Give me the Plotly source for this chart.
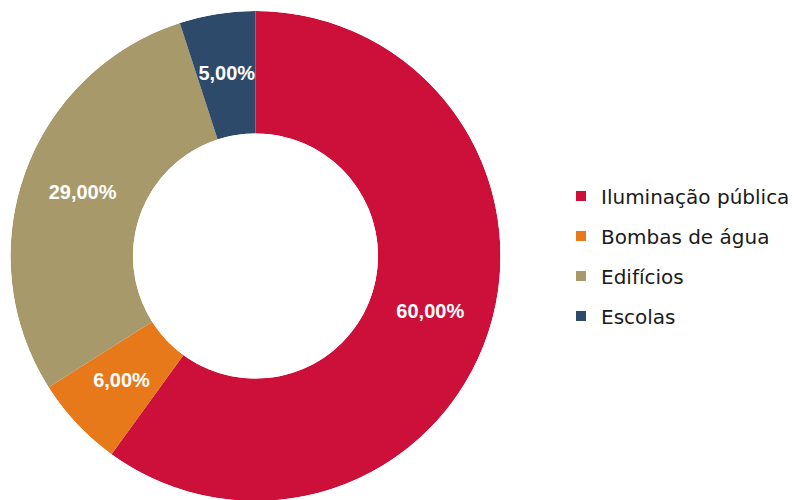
import numpy as np
import plotly.graph_objects as go

labels = ["Iluminação pública", "Bombas de água", "Edifícios", "Escolas"]
values = [60, 6, 29, 5]
colors = ["#CC1039", "#E8791A", "#A8996B", "#2D4A6B"]
texts = [f"{v:.2f}".replace(".", ",") + "%" for v in values]

# page body has an 8px margin; offsets below are in figure pixels
dom = dict(x=[2.5/798, 492.5/798], y=[7/500, 497/500])

vals = np.array(values, dtype=float)
widths = vals / vals.sum() * 360.0
mids = np.cumsum(widths) - widths / 2.0

fig = go.Figure()
# donut ring drawn as polar bars (hole set on the polar subplot)
fig.add_trace(go.Barpolar(
    r=[1] * len(values), theta=mids.tolist(), width=widths.tolist(),
    marker=dict(color=colors, line=dict(width=0)),
    text=labels, hoverinfo="text", showlegend=False,
))
fig.add_trace(go.Scatterpolar(
    r=[0.5] * len(values), theta=mids.tolist(), text=texts,
    mode="text", textposition="middle center",
    textfont=dict(family="Liberation Sans", size=20, color="white", weight="bold"),
    showlegend=False, hoverinfo="skip",
))
for lab, col in zip(labels, colors):
    fig.add_trace(go.Scatter(
        x=[None], y=[None], mode="markers", name=lab, legendgroup=lab,
        marker=dict(symbol="square", size=10, color=col),
    ))

fig.update_layout(
    width=798, height=500,
    margin=dict(l=0, r=0, t=0, b=0),
    paper_bgcolor="white", plot_bgcolor="white",
    xaxis=dict(visible=False), yaxis=dict(visible=False),
    polar=dict(
        domain=dom, bgcolor="rgba(0,0,0,0)", hole=0.5,
        radialaxis=dict(visible=False, range=[0, 1]),
        angularaxis=dict(visible=False, rotation=90, direction="clockwise"),
    ),
    legend=dict(
        x=553/798, xanchor="left", y=0.504, yanchor="middle",
        font=dict(family="DejaVu Sans", size=20, color="#1a1a1a"),
        tracegroupgap=11, itemwidth=30,
        bgcolor="rgba(0,0,0,0)",
    ),
)
fig.write_html("out.html")
